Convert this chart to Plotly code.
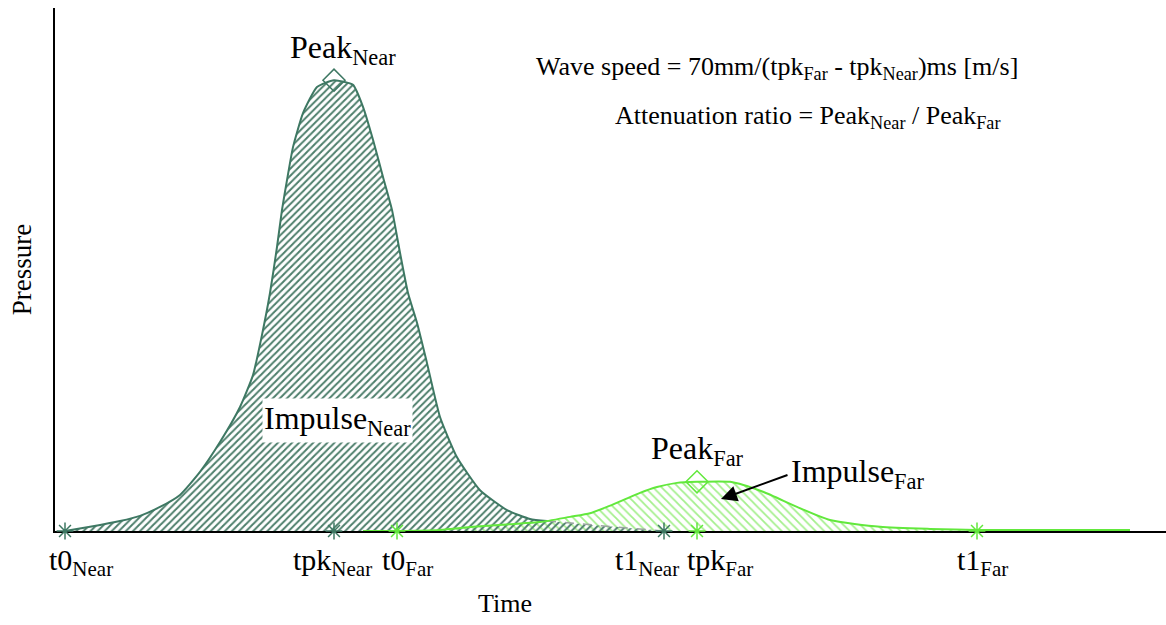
import plotly.graph_objects as go

# ---- data (time in ms-like units, pressure normalised) ----
near_t = [1.0, 3.5, 6.5, 8.5, 10.5, 12.5, 14.5, 16.5, 18.5, 19.8, 20.7, 21.5, 22.2, 22.7,
          23.2, 23.8, 24.8, 26.2, 27.9, 29.8, 30.8, 31.8, 32.8, 33.7, 34.5, 35.3, 36.2,
          37.2, 38.5, 40.2, 42.5, 45.2, 47.5, 49.2]
near_p = [0.0, 0.008, 0.019, 0.029, 0.046, 0.069, 0.113, 0.170, 0.237, 0.298, 0.375, 0.455,
          0.543, 0.614, 0.671, 0.734, 0.799, 0.849, 0.862, 0.853, 0.811, 0.748, 0.677, 0.614,
          0.532, 0.455, 0.398, 0.321, 0.218, 0.141, 0.078, 0.040, 0.023, 0.019]
near_tail_t = [49.2, 60.9]
near_tail_p = [0.019, 0.0]

far_t = [30.8, 34.2, 38.5, 41.8, 45.5, 48.5, 51.5, 53.5, 55.2, 56.8, 58.5, 60.2, 62.2, 64.2,
         67.5, 70.8, 74.2, 77.5, 82.5, 87.5, 92.2, 107.5]
far_p = [0.0, 0.0, 0.002, 0.008, 0.013, 0.017, 0.027, 0.034, 0.046, 0.059, 0.073, 0.084,
         0.092, 0.094, 0.094, 0.075, 0.046, 0.021, 0.008, 0.004, 0.002, 0.002]

peak_near = (27.9, 0.862)
peak_far = (64.2, 0.094)

near_events_t = [1.0, 27.9, 60.9]      # t0Near, tpkNear, t1Near
far_events_t = [34.2, 64.2, 92.2]      # t0Far, tpkFar, t1Far

event_t = [1.0, 27.9, 34.2, 60.9, 64.2, 92.2]
event_labels = ["t0<sub>Near</sub>", "tpk<sub>Near</sub>", "t0<sub>Far</sub>",
                "t1<sub>Near</sub>", "tpk<sub>Far</sub>", "t1<sub>Far</sub>"]

NEAR = "#3E7863"
NEAR_HATCH = "#4E7F6C"
FAR = "#62E83C"
FAR_HATCH = "#A4EF8C"
FONT = "Liberation Serif"

fig = go.Figure()

# far fill
fig.add_trace(go.Scatter(
    x=far_t + [far_t[-1]], y=far_p + [0], mode="lines",
    line=dict(width=0, shape="spline", smoothing=0.6),
    fill="tozeroy", fillcolor="rgba(0,0,0,0)",
    fillpattern=dict(shape="\\", size=6, solidity=0.3, fgcolor=FAR_HATCH,
                     bgcolor="rgba(0,0,0,0)", fillmode="replace"),
    hoverinfo="skip", showlegend=False))

# near fill
fig.add_trace(go.Scatter(
    x=near_t + near_tail_t[1:], y=near_p + near_tail_p[1:], mode="lines",
    line=dict(width=0, shape="spline", smoothing=0.5),
    fill="tozeroy", fillcolor="rgba(0,0,0,0)",
    fillpattern=dict(shape="/", size=5, solidity=0.4, fgcolor=NEAR_HATCH,
                     bgcolor="rgba(0,0,0,0)", fillmode="replace"),
    hoverinfo="skip", showlegend=False))

# near dashed tail
fig.add_trace(go.Scatter(x=near_tail_t, y=near_tail_p, mode="lines",
                         line=dict(color="#9AA5A0", width=1.5, dash="dash"),
                         hoverinfo="skip", showlegend=False))
# near line
fig.add_trace(go.Scatter(x=near_t, y=near_p, mode="lines",
                         line=dict(color=NEAR, width=2, shape="spline", smoothing=0.5),
                         showlegend=False))
# far line
fig.add_trace(go.Scatter(x=far_t, y=far_p, mode="lines",
                         line=dict(color=FAR, width=2, shape="spline", smoothing=0.6),
                         showlegend=False))

# peak markers
fig.add_trace(go.Scatter(x=[peak_near[0]], y=[peak_near[1]], mode="markers",
                         marker=dict(symbol="diamond-open", size=17, color=NEAR,
                                     line=dict(color=NEAR, width=1.5)),
                         showlegend=False))
fig.add_trace(go.Scatter(x=[peak_far[0]], y=[peak_far[1]], mode="markers",
                         marker=dict(symbol="diamond-open", size=17, color=FAR,
                                     line=dict(color=FAR, width=1.5)),
                         showlegend=False))

# event markers
fig.add_trace(go.Scatter(x=near_events_t, y=[0] * len(near_events_t), mode="markers",
                         marker=dict(symbol="asterisk-open", size=14, color=NEAR,
                                     line=dict(color=NEAR, width=1.5)),
                         cliponaxis=False, showlegend=False))
fig.add_trace(go.Scatter(x=far_events_t, y=[0] * len(far_events_t), mode="markers",
                         marker=dict(symbol="asterisk-open", size=14, color=FAR,
                                     line=dict(color=FAR, width=1.5)),
                         cliponaxis=False, showlegend=False))

tf = dict(family=FONT, size=30, color="black")
tl = dict(family=FONT, size=32, color="black")
tf2 = dict(family=FONT, size=26, color="black")

annotations = [
    dict(x=peak_near[0] + 0.9, y=peak_near[1], yshift=31, text="Peak<sub>Near</sub>",
         showarrow=False, font=tl),
    dict(x=peak_far[0], y=peak_far[1], yshift=31, text="Peak<sub>Far</sub>",
         showarrow=False, font=tl),
    dict(x=28.2, y=0.212, text="Impulse<sub>Near</sub>", showarrow=False, font=tl,
         bgcolor="white", borderpad=1),
    dict(x=73.4, y=0.11, xanchor="left", text="Impulse<sub>Far</sub>", showarrow=False,
         font=tl),
    dict(x=66.6, y=0.061, ax=73.4, ay=0.108, axref="x", ayref="y", text="",
         showarrow=True, arrowhead=2, arrowsize=1.6, arrowwidth=2, arrowcolor="black"),
    dict(x=1.0, xref="paper", xanchor="right", y=0.885, yref="paper", yanchor="middle",
         text="Wave speed = 70mm/(tpk<sub>Far</sub> - tpk<sub>Near</sub>)ms [m/s]",
         showarrow=False, font=tf2, xshift=-146),
    dict(x=1.0, xref="paper", xanchor="right", y=0.792, yref="paper", yanchor="middle",
         text="Attenuation ratio = Peak<sub>Near</sub> / Peak<sub>Far</sub>",
         showarrow=False, font=tf2, xshift=-164),
    dict(x=45.0, y=-0.138, yref="paper", yanchor="middle", text="Time", showarrow=False,
         font=tf2),
]

# event labels under the axis (slightly offset from their markers as in the original)
label_shift = [16, -2, 10, -17, 23, 5]
for t, lab, dx in zip(event_t, event_labels, label_shift):
    annotations.append(dict(x=t, y=0, yanchor="middle", yshift=-31, xshift=dx, text=lab,
                            showarrow=False, font=tf))

fig.update_layout(
    width=1166, height=625,
    margin=dict(l=55, r=0, t=8, b=94),
    paper_bgcolor="white", plot_bgcolor="white",
    font=dict(family=FONT),
    annotations=annotations,
    xaxis=dict(range=[0, 111.1], showgrid=False, zeroline=False,
               showline=True, linecolor="black", linewidth=2,
               showticklabels=False, ticks="", layer="below traces"),
    yaxis=dict(range=[0, 1], showgrid=False, zeroline=False,
               showline=True, linecolor="black", linewidth=2,
               showticklabels=False, ticks="", layer="below traces",
               title=dict(text="Pressure", font=dict(family=FONT, size=27, color="black"),
                          standoff=14)),
)

fig.write_html("out.html")
